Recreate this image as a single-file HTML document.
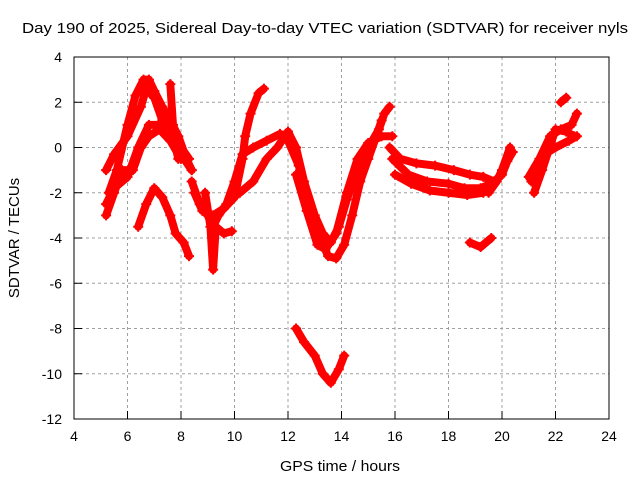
<!DOCTYPE html>
<html><head><meta charset="utf-8"><style>
body{margin:0;background:#fff;}
svg{display:block;font-family:"Liberation Sans",sans-serif;}
</style></head><body>
<svg id="chart" width="640" height="480" viewBox="0 0 640 480" xmlns="http://www.w3.org/2000/svg">
<text x="22" y="33" font-size="15" textLength="606" lengthAdjust="spacingAndGlyphs">Day 190 of 2025, Sidereal Day-to-day VTEC variation (SDTVAR) for receiver nyls</text>
<text x="280" y="471" font-size="15" textLength="120" lengthAdjust="spacingAndGlyphs">GPS time / hours</text>
<text transform="translate(19,238) rotate(-90)" font-size="15" text-anchor="middle">SDTVAR / TECUs</text>
<g id="grid"></g>
<g id="ticks"></g>
<g id="series"></g>
<rect x="74" y="57" width="535" height="362" fill="none" stroke="#000" stroke-width="1"/>
</svg>
<script>
const xTicks=[4,6,8,10,12,14,16,18,20,22,24];
const yTicks=[4,2,0,-2,-4,-6,-8,-10,-12];
const tracksX=[
[5.3,5.6,6.0,6.3,6.6,6.8,7.0,7.3,7.6,7.9,8.2,8.4],
[5.2,5.5,6.0,6.5,6.7,7.0,7.3,7.6,8.0,8.3],
[5.2,5.5,6.0,6.4,6.8,7.2,7.5,8.0,8.4],
[5.2,5.5,5.8,6.2,6.5,6.8,7.2,7.6,8.0],
[7.6,7.7,7.8,7.9],
[6.4,6.7,7.0,7.3,7.6,7.8,8.1,8.3],
[8.4,8.7,9.0,9.2,9.4,9.7,10.0,10.3,10.7,11.2,11.7,12.0],
[8.5,8.8,9.2,9.6,10.0],
[8.9,9.1,9.2,9.3,9.6,9.9],
[10.0,10.3,10.4,10.6,10.9,11.1],
[10.2,10.7,11.2,11.6,12.0],
[12.0,12.3,12.6,13.0,13.3,13.6,13.9,14.2,14.6,15.0,15.4,15.6,15.8],
[12.0,12.4,12.8,13.2,13.5,13.8,14.1,14.4,14.7,15.0,15.3,15.5],
[12.3,12.7,13.1,13.4,13.8,14.2,14.6,15.0,15.5,15.9],
[12.3,12.6,13.0,13.3,13.6,13.9,14.1],
[15.8,16.2,16.8,17.5,18.2,18.8,19.3,19.7],
[15.9,16.5,17.2,18.0,18.6,19.2,19.8],
[16.0,16.6,17.3,18.0,18.7,19.3,19.7],
[18.8,19.2,19.6],
[19.5,19.8,20.0,20.3],
[19.5,19.8,20.0,20.2,20.4],
[21.0,21.4,21.8,22.2,22.6,22.8],
[21.1,21.6,22.0,22.5,22.8],
[21.2,21.5,22.0,22.4,22.7],
[22.2,22.4]
];
const tracksY=[
[-2,-1,1,2.3,3.0,3.0,2.5,1.8,1.2,0.5,-0.5,-1.0],
[-1,-0.3,0.5,1.8,2.6,2.2,1.2,0.6,0,-0.5],
[-2.5,-1.8,-1.3,0,1,1,0.5,-0.3,-1],
[-3,-2,-1,-1,0,0.5,0.8,0.3,-0.5],
[2.8,1,0,-0.5],
[-3.5,-2.5,-1.8,-2.2,-3,-3.8,-4.2,-4.8],
[-1.5,-2.5,-3,-3.5,-3,-2.5,-1.5,-0.3,0,0.3,0.6,0.5],
[-2,-2.8,-3,-2.7,-2.2],
[-2,-3.5,-5.4,-3.5,-3.8,-3.7],
[-2.2,-0.5,0.5,1.5,2.4,2.6],
[-2,-1.5,-0.5,0,0.7],
[0.7,0,-1.5,-3,-3.8,-4.2,-3.5,-2.3,-1,0,0.8,1.5,1.8],
[0.3,-0.8,-2.5,-4,-4.8,-4.9,-4.3,-3,-1.5,-0.5,0.5,1.2],
[-1.2,-2.8,-4.3,-4.5,-3.8,-2,-0.5,0.2,0.5,0.5],
[-8,-8.6,-9.2,-10,-10.4,-9.8,-9.2],
[0,-0.5,-0.7,-0.8,-1,-1.2,-1.3,-1.5],
[-0.5,-1.2,-1.5,-1.6,-1.8,-1.8,-1.5],
[-1.2,-1.6,-1.9,-2,-2.1,-2.0,-1.6],
[-4.2,-4.4,-4.0],
[-2,-1.5,-1,0],
[-1.6,-1.4,-1.2,-0.6,-0.2],
[-1.3,-0.5,0.5,0.8,1.0,1.5],
[-1.5,-0.3,0,0.3,0.5],
[-2,-1,0.8,0.7,0.5],
[2,2.2]
];
const NS='http://www.w3.org/2000/svg';
const X=v=>74+(v-4)*535/20, Y=v=>57+(4-v)*362/16;
const grid=document.getElementById('grid'),ticks=document.getElementById('ticks'),ser=document.getElementById('series');
function mk(t,a,p){const e=document.createElementNS(NS,t);for(const k in a)e.setAttribute(k,a[k]);p.appendChild(e);return e;}
xTicks.forEach(v=>{
 if(v>4&&v<24){const l=mk('line',{x1:X(v),x2:X(v),y1:57,y2:419,stroke:'#a0a0a0','stroke-dasharray':'3,3'},grid);
 
 }
 const t=mk('line',{x1:X(v),x2:X(v),y1:419,y2:411,stroke:'#000'},ticks);
 
 
 const tx=mk('text',{x:X(v),y:441,'font-size':14,'text-anchor':'middle'},ticks);tx.textContent=v;
 
 
});
yTicks.forEach(v=>{
 if(v<4&&v>-12){const l=mk('line',{x1:74,x2:609,y1:Y(v),y2:Y(v),stroke:'#a0a0a0','stroke-dasharray':'3,3'},grid);
 
 }
 const t=mk('line',{x1:74,x2:82,y1:Y(v),y2:Y(v),stroke:'#000'},ticks);
 
 
 const tx=mk('text',{x:62,y:Y(v)+5,'font-size':14,'text-anchor':'end'},ticks);tx.textContent=v;
 
 
});
tracksX.forEach((xs,i)=>{
 const ys=tracksY[i];
 const pts=xs.map((x,j)=>X(x)+','+Y(ys[j])).join(' ');
 const pl=mk('polyline',{points:pts,fill:'none',stroke:'#ff0000','stroke-width':8,'stroke-linejoin':'round','stroke-linecap':'round'},ser);
 
 
 xs.forEach((x,j)=>{
  const cx=X(x),cy=Y(ys[j]);
  const p=mk('path',{d:`M${cx-5},${cy}H${cx+5}M${cx},${cy-5}V${cy+5}`,stroke:'#ff0000','stroke-width':2},ser);
  
  
 });
});
</script>
</body></html>
